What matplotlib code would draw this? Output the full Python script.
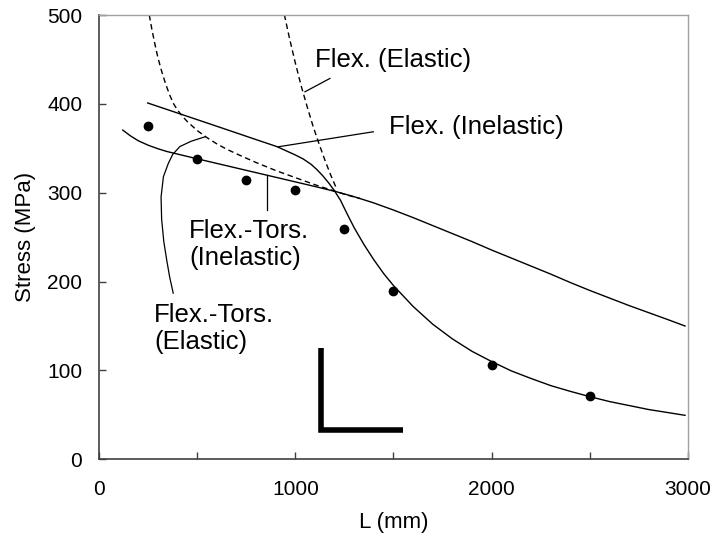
import matplotlib
matplotlib.use("Agg")
import matplotlib.pyplot as plt
from matplotlib.ticker import FixedLocator, FixedFormatter

plt.rcParams['font.family'] = ['Liberation Sans', 'DejaVu Sans']

# ---- data ----
test_L = [250, 500, 750, 1000, 1250, 1500, 2000, 2500]
test_stress = [375, 338, 314, 303, 259, 189, 106, 71]

# Flexural-torsional (inelastic), solid
ft_inel_L = [121, 160, 200, 250, 300, 344, 400, 500, 600, 700, 800, 900, 1000,
             1100, 1211, 1300, 1400, 1500, 1600, 1700, 1800, 1900, 2000, 2100,
             2200, 2300, 2400, 2500, 2600, 2700, 2800, 2900, 2985]
ft_inel_S = [370.5, 364, 358.5, 353.5, 349.5, 346.5, 343.5, 338.2, 333, 327.8,
             322.6, 317.4, 312.2, 307, 301, 295.5, 288.5, 280.5, 272, 263, 254,
             245, 235.5, 226.5, 217.5, 208.5, 199, 190, 181.5, 173, 165, 157, 150]

# Flexural (inelastic), solid
fl_inel_L = [248, 400, 600, 800, 905, 950, 1000, 1040, 1080, 1110, 1140, 1170,
             1200, 1230, 1262, 1300, 1350, 1400, 1450, 1500, 1600, 1700, 1800,
             1900, 2000, 2100, 2200, 2300, 2400, 2500, 2600, 2700, 2800, 2900, 2985]
fl_inel_S = [401, 389.7, 374.8, 359.8, 352, 347.5, 342.5, 338, 332, 326, 319,
             311, 302, 291.5, 277, 260.5, 241.5, 224.5, 209, 195.5, 172, 152,
             135.5, 121.5, 110, 99.5, 91, 83, 76.5, 70.5, 65, 60.5, 56, 52.5, 49.5]

# Flexural (elastic), dashed
fl_el_L = [944, 970, 1000, 1030, 1060, 1090, 1120, 1150, 1180, 1211]
fl_el_S = [500.5, 474, 446, 420, 397, 375, 355.5, 337, 320, 304]

# Flexural-torsional (elastic), dashed
ft_el_L = [256, 270, 285, 300, 320, 340, 360, 380, 400, 425, 450, 500, 550, 600,
           650, 718, 800, 900, 1000, 1100, 1211, 1270, 1330]
ft_el_S = [500, 483, 467, 452, 436, 422, 410, 400, 393, 386, 380, 370, 362, 355,
           349, 342, 334, 325, 317, 309, 301, 297, 293.5]

x_ticks = [0, 500, 1000, 1500, 2000, 2500, 3000]
x_tick_labels = ['0', '', '1000', '', '2000', '', '3000']
y_ticks = [0, 100, 200, 300, 400, 500]
y_tick_labels = ['0', '100', '200', '300', '400', '500']

fig = plt.figure(figsize=(7.18, 5.44), dpi=100)
ax = fig.add_axes([0.1379, 0.1557, 0.8203, 0.8167])

lw = 1.0
dash = (0, (4, 2.6))
ax.plot(ft_inel_L, ft_inel_S, color='black', lw=lw)
ax.plot(fl_inel_L, fl_inel_S, color='black', lw=lw)
ax.plot(fl_el_L, fl_el_S, color='black', lw=lw, ls=dash)
ax.plot(ft_el_L, ft_el_S, color='black', lw=lw, ls=dash)
ax.plot(test_L, test_stress, 'o', color='black', ms=6, mec='black')

# leader lines
ax.plot([1176, 1049], [428.6, 413.6], color='black', lw=0.9)
ax.plot([1397, 913], [368.6, 351.7], color='black', lw=0.9)
ax.plot([854, 854], [320, 280], color='black', lw=0.9)
ax.plot([541, 470, 412, 375, 353, 328, 316, 319, 330, 345, 360, 378],
        [363, 358, 352, 343, 333, 318, 295, 270, 245, 224, 205, 187],
        color='black', lw=0.9)

# cross-section symbol
ax.plot([1133, 1133, 1547], [125, 33, 33], color='black', lw=4,
        solid_joinstyle='miter', solid_capstyle='butt')

fs = 18.5
ax.text(1100, 449, 'Flex. (Elastic)', fontsize=fs, ha='left', va='center')
ax.text(1478, 374, 'Flex. (Inelastic)', fontsize=fs, ha='left', va='center')
ax.text(460, 242, 'Flex.-Tors.\n(Inelastic)', fontsize=fs, ha='left', va='center',
        linespacing=1.15)
ax.text(281, 147, 'Flex.-Tors.\n(Elastic)', fontsize=fs, ha='left', va='center',
        linespacing=1.15)

ax.set_xlim(0, 3000)
ax.set_ylim(0, 500)
ax.xaxis.set_major_locator(FixedLocator(x_ticks))
ax.xaxis.set_major_formatter(FixedFormatter(x_tick_labels))
ax.yaxis.set_major_locator(FixedLocator(y_ticks))
ax.yaxis.set_major_formatter(FixedFormatter(y_tick_labels))

ax.tick_params(axis='both', direction='in', length=5, width=1, color='#404040',
               labelsize=15, top=False, right=False)
ax.tick_params(axis='x', pad=15)
ax.tick_params(axis='y', pad=12)

for side in ['left', 'bottom']:
    ax.spines[side].set_color('#404040')
    ax.spines[side].set_linewidth(1.2)
for side in ['top', 'right']:
    ax.spines[side].set_color('#a0a0a0')
    ax.spines[side].set_linewidth(1.0)

ax.set_xlabel('L (mm)', fontsize=16, labelpad=9)
ax.set_ylabel('Stress (MPa)', fontsize=16, labelpad=8)

fig.savefig('out.png', dpi=100)
